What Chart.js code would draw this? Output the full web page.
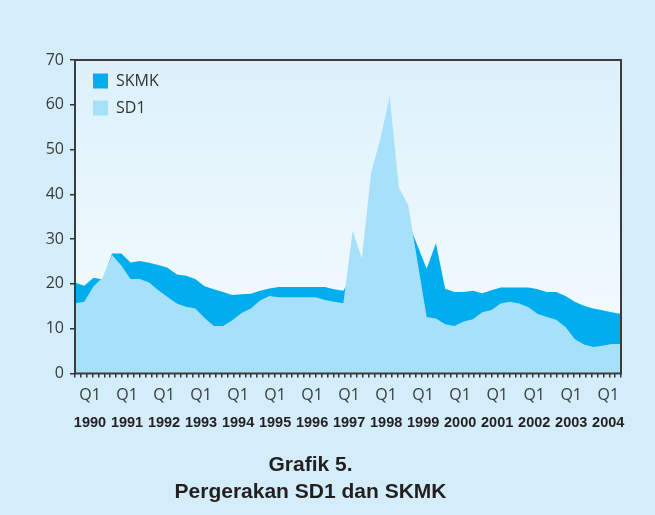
<!DOCTYPE html>
<html>
<head>
<meta charset="utf-8">
<script src="https://cdn.jsdelivr.net/npm/chart.js@4/dist/chart.umd.min.js"></script>
<style>
    html, body { margin: 0; padding: 0; background: #d3edfa; }
    #wrap { width: 655px; height: 515px; }
</style>
</head>
<body>
<div id="wrap"><canvas id="chart" width="655" height="515"></canvas></div>
<script>
// quarterly data, 1990 Q1 - 2004 Q4
const years = ['1990', '1991', '1992', '1993', '1994', '1995', '1996', '1997',
               '1998', '1999', '2000', '2001', '2002', '2003', '2004'];
const quarters = ['Q1', 'Q2', 'Q3', 'Q4'];

const skmk = [20.3, 19.6, 21.4, 21.0, 26.8, 26.8, 24.8, 25.1, 24.7, 24.2,
              23.6, 22.1, 21.8, 21.1, 19.5, 18.8, 18.2, 17.5, 17.7, 17.8,
              18.5, 19.0, 19.3, 19.3, 19.3, 19.3, 19.3, 19.3, 18.8, 18.5,
              22.0, 23.0, 28.0, 31.0, 32.0, 33.0, 33.8, 28.6, 23.4, 29.1,
              18.9, 18.2, 18.2, 18.5, 17.9, 18.6, 19.2, 19.2, 19.2, 19.2,
              18.8, 18.2, 18.2, 17.3, 16.0, 15.1, 14.5, 14.1, 13.7, 13.3];

const sd1 = [15.7, 16.0, 19.4, 21.5, 26.5, 24.1, 21.1, 21.1, 20.3, 18.6,
             17.1, 15.6, 14.9, 14.5, 12.4, 10.6, 10.6, 11.9, 13.5, 14.5,
             16.3, 17.3, 17.0, 17.0, 17.0, 17.0, 17.0, 16.4, 16.0, 15.7,
             31.9, 25.7, 44.9, 52.4, 61.9, 41.5, 37.6, 25.1, 12.6, 12.3,
             11.0, 10.6, 11.6, 12.1, 13.7, 14.2, 15.6, 16.0, 15.6, 14.8,
             13.3, 12.6, 12.0, 10.4, 7.7, 6.5, 5.9, 6.2, 6.6, 6.6];

const categories = [];
years.forEach(y => quarters.forEach(q => categories.push(y + ' ' + q)));

const titleLines = ['Grafik 5.', 'Pergerakan SD1 dan SKMK'];

const lightFont = "'Open Sans', 'DejaVu Sans', sans-serif";
const boldFont = "'Liberation Sans', Arial, sans-serif";

// background + plot gradient + frame
const framePlugin = {
    id: 'frame',
    afterLayout(chart) {
        // keep the legend inside the plot, top left
        const lg = chart.legend;
        if (!lg) return;
        const a = chart.chartArea;
        lg.left = a.left + 7;
        lg.right = lg.left + lg.width;
        lg.top = a.top + 2;
        lg.bottom = lg.top + lg.height;
    },
    beforeDraw(chart) {
        const { ctx, chartArea: a, width, height } = chart;
        ctx.save();
        ctx.fillStyle = '#d3edfa';
        ctx.fillRect(0, 0, width, height);
        const g = ctx.createLinearGradient(0, a.top, 0, a.bottom);
        g.addColorStop(0, '#dcf1fb');
        g.addColorStop(1, '#f7fcfe');
        ctx.fillStyle = g;
        ctx.fillRect(a.left, a.top, a.right - a.left, a.bottom - a.top);
        ctx.restore();
    },
    afterDraw(chart) {
        const { ctx, chartArea: a } = chart;
        ctx.save();
        ctx.strokeStyle = '#3c3c3c';
        ctx.lineWidth = 2;
        ctx.strokeRect(a.left, a.top, a.right - a.left, a.bottom - a.top);
        ctx.restore();
    }
};

new Chart(document.getElementById('chart'), {
    type: 'line',
    data: {
        labels: categories,
        datasets: [
            {
                label: 'SKMK',
                data: skmk,
                order: 1,
                fill: 'origin',
                backgroundColor: '#00aeef',
                borderColor: 'rgba(0,0,0,0)',
                borderWidth: 0,
                pointRadius: 0,
                xAxisID: 'x'
            },
            {
                label: 'SD1',
                data: sd1,
                order: 0,
                fill: 'origin',
                backgroundColor: '#a7e0f9',
                borderColor: 'rgba(0,0,0,0)',
                borderWidth: 0,
                pointRadius: 0,
                xAxisID: 'x'
            }
        ]
    },
    options: {
        animation: false,
        responsive: false,
        layout: { padding: { top: 60, right: 34, left: 0, bottom: 0 } },
        plugins: {
            legend: {
                position: 'chartArea',
                align: 'start',
                labels: {
                    boxWidth: 15,
                    boxHeight: 15,
                    padding: 11,
                    color: '#333',
                    font: { family: lightFont, size: 16 },
                    sort: (a, b) => a.datasetIndex - b.datasetIndex
                }
            },
            title: {
                display: true,
                position: 'bottom',
                text: titleLines,
                color: '#231f20',
                font: { family: boldFont, size: 21, weight: 'bold', lineHeight: 1.286 },
                padding: { top: 20, bottom: 9 }
            },
            tooltip: { enabled: false }
        },
        scales: {
            xm: {
                type: 'linear',
                position: 'bottom',
                weight: 0,
                min: 0,
                max: 93,
                ticks: { display: false, stepSize: 1, maxTicksLimit: 200 },
                grid: { drawOnChartArea: false, drawTicks: true, tickLength: 4, tickColor: '#333', lineWidth: 1.5 },
                border: { display: true, color: '#3c3c3c', width: 2 }
            },
            x: {
                type: 'category',
                position: 'bottom',
                weight: 1,
                offset: false,
                grid: { display: false, drawTicks: false },
                border: { display: false },
                ticks: {
                    autoSkip: false,
                    maxRotation: 0,
                    padding: 10,
                    labelOffset: 15,
                    color: '#3a3a3a',
                    font: { family: lightFont, size: 16, lineHeight: 1 },
                    callback: (v, i) => (i % 4 === 0 ? quarters[0] : '')
                }
            },
            x2: {
                type: 'category',
                position: 'bottom',
                weight: 2,
                offset: false,
                grid: { display: false, drawTicks: false },
                border: { display: false },
                ticks: {
                    autoSkip: false,
                    maxRotation: 0,
                    padding: 2,
                    labelOffset: 15,
                    color: '#231f20',
                    font: { family: boldFont, size: 14.5, weight: 'bold', lineHeight: 1 },
                    callback: (v, i) => (i % 4 === 0 ? years[i / 4] : '')
                }
            },
            y: {
                min: 0,
                max: 70,
                afterFit: (scale) => { scale.width = 75; },
                ticks: {
                    stepSize: 10,
                    padding: 6,
                    color: '#3a3a3a',
                    font: { family: lightFont, size: 16 }
                },
                grid: { drawOnChartArea: false, tickLength: 5, tickColor: '#333', lineWidth: 1.5 },
                border: { color: '#3c3c3c', width: 2 }
            }
        }
    },
    plugins: [framePlugin]
});
</script>
</body>
</html>
